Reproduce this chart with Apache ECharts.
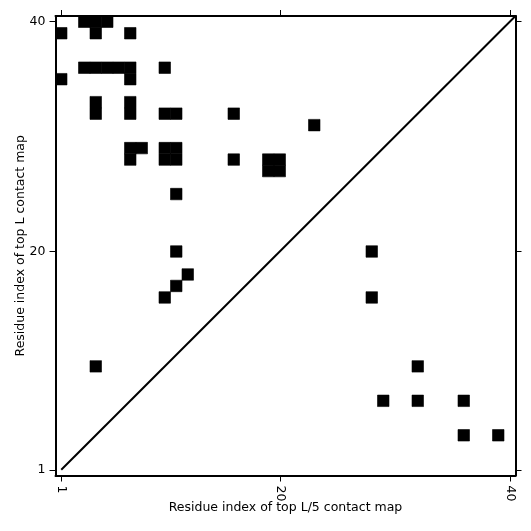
<!DOCTYPE html>
<html>
<head>
<meta charset="utf-8">
<script src="https://cdn.jsdelivr.net/npm/echarts@6/dist/echarts.min.js"></script>
<style>
  html, body { margin: 0; padding: 0; background: #fff; }
  #chart { width: 531px; height: 531px; }
</style>
</head>
<body>
<div id="chart"></div>
<script>
// top L contact map (upper-left triangle), [x, y]
const topLContacts = [
  [3, 40], [4, 40], [5, 40],
  [1, 39], [4, 39], [7, 39],
  [3, 36], [4, 36], [5, 36], [6, 36], [7, 36], [10, 36],
  [1, 35], [7, 35],
  [4, 33], [7, 33],
  [4, 32], [7, 32], [10, 32], [11, 32], [16, 32],
  [23, 31],
  [7, 29], [8, 29], [10, 29], [11, 29],
  [7, 28], [10, 28], [11, 28], [16, 28], [19, 28], [20, 28],
  [19, 27], [20, 27],
  [11, 25],
  [11, 20],
  [12, 18],
  [11, 17],
  [10, 16],
  [4, 10]
]

// top L/5 contact map (lower-right triangle)
const topL5Contacts = [
  [28, 20], [28, 16],
  [32, 10],
  [29, 7], [32, 7], [36, 7],
  [36, 4], [39, 4]
]

const diagonal = [[1, 1], [40.5, 40.5]]
const tickValues = [1, 20, 40]
const axisMin = 0.5
const axisMax = 40.5

const chart = echarts.init(document.getElementById('chart'), null, { renderer: 'canvas' })

const fontFamily = 'DejaVu Sans'
const lineStyle = { color: '#000', width: 2 }

// 画单元格：每个接触点占一个单位方格
function renderCell(params, api) {
  const x = api.value(0)
  const y = api.value(1)
  const p1 = api.coord([x - 0.5, y + 0.5])
  const p2 = api.coord([x + 0.5, y - 0.5])
  return {
    type: 'rect',
    shape: { x: p1[0], y: p1[1], width: p2[0] - p1[0], height: p2[1] - p1[1] },
    style: { fill: '#000', stroke: '#000', lineWidth: 0.6 }
  }
}

function makeAxis(position, showLabel, name, nameGap, rotate) {
  return {
    type: 'value',
    position: position,
    min: axisMin,
    max: axisMax,
    name: name,
    nameLocation: 'middle',
    nameGap: nameGap,
    nameMoveOverlap: false,
    nameTextStyle: { color: '#000', fontFamily: fontFamily, fontSize: 12.5 },
    axisLine: { show: true, onZero: false, lineStyle: lineStyle },
    axisTick: {
      show: true,
      inside: false,
      length: 6,
      customValues: tickValues,
      lineStyle: { color: '#000', width: 1 }
    },
    axisLabel: {
      show: showLabel,
      customValues: tickValues,
      color: '#000',
      fontFamily: fontFamily,
      fontSize: 12.5,
      margin: 10,
      rotate: rotate
    },
    splitLine: { show: false }
  }
}

const option = {
  animation: false,
  backgroundColor: '#fff',
  grid: {
    left: 55.5, right: 15.5, top: 16, bottom: 55.5,
    outerBoundsMode: 'none'
  },
  xAxis: [
    makeAxis('bottom', true, 'Residue index of top L/5 contact map', 26, -90),
    makeAxis('top', false, '', 0, 0)
  ],
  yAxis: [
    makeAxis('left', true, 'Residue index of top L contact map', 28, 0),
    makeAxis('right', false, '', 0, 0)
  ],
  series: [
    {
      name: 'top L',
      type: 'custom',
      renderItem: renderCell,
      data: topLContacts,
      clip: true
    },
    {
      name: 'top L/5',
      type: 'custom',
      renderItem: renderCell,
      data: topL5Contacts,
      clip: true
    },
    {
      name: 'diagonal',
      type: 'line',
      data: diagonal,
      symbol: 'none',
      lineStyle: { color: '#000', width: 2 },
      clip: true
    }
  ]
}

chart.setOption(option)
</script>
</body>
</html>
